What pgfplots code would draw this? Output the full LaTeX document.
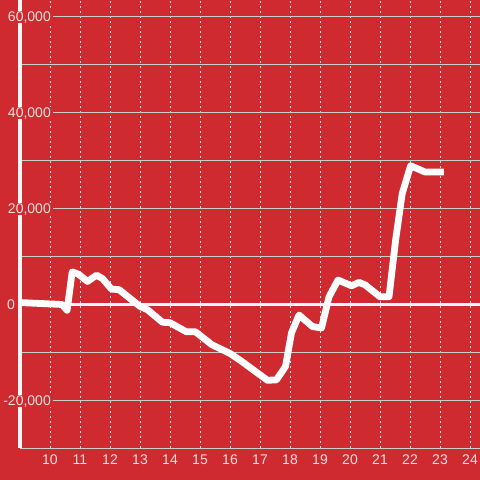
\documentclass[border=0pt]{standalone}
\usepackage{fontspec}
\setmainfont{Liberation Sans}
\usepackage{pgfplots}
\pgfplotsset{compat=1.18}
\definecolor{bg}{RGB}{206,42,47}
\definecolor{lbl}{RGB}{243,222,222}
\definecolor{gridc}{RGB}{205,205,205}
\begin{document}
\begin{tikzpicture}
\fill[bg] (0,0) rectangle (480pt,480pt);
\useasboundingbox (0,0) rectangle (480pt,480pt);
\begin{axis}[
  at={(20pt,32pt)}, anchor=south west,
  scale only axis, width=460pt, height=448pt,
  xmin=9, xmax=24.333, ymin=-30000, ymax=63333,
  axis x line=bottom, axis y line=left,
  x axis line style={gridc, line width=1pt, -},
  y axis line style={white!94!gray, line width=3.5pt, -},
  xtick={10,...,24},
  ytick={-20000,20000,40000,60000},
  yticklabels={-20{,}000,20{,}000,40{,}000,60{,}000},
  minor ytick={-10000,10000,30000,50000},
  extra y ticks={0}, extra y tick labels={0},
  extra y tick style={yticklabel style={xshift=-36pt}},
  major tick length=0pt, minor tick length=0pt,
  xmajorgrids, ymajorgrids, yminorgrids,
  x grid style={white!85!bg, line width=1pt, dash pattern=on 2pt off 3pt},
  y grid style={gridc, line width=1pt, solid},
  /pgf/number format/assume math mode=true,
  tick label style={text=lbl, font=\fontsize{14}{16}\selectfont},
  xticklabel style={anchor=center, yshift=-12pt},
  yticklabel style={anchor=base east, xshift=33pt, yshift=-5pt, fill=bg, inner xsep=2pt, inner ysep=0.5pt},
]
\addplot[white!94!gray, line width=3pt, no markers] coordinates {(9,0) (24.333,0)};
\addplot[white, line width=6.8pt, line join=round, no markers] coordinates {
  (9,300) (10.4,-100) (10.57,-1300) (10.74,6700) (10.95,6200) (11.25,4700)
  (11.55,6000) (11.75,5300) (12.05,3100) (12.3,3000) (13.0,-500) (13.25,-1200)
  (13.75,-3800) (14.0,-3900) (14.55,-5800) (14.85,-5800) (15.4,-8500)
  (16.0,-10300) (16.4,-12000) (17.25,-15900) (17.55,-15800) (17.85,-13000)
  (18.05,-6000) (18.3,-2300) (18.75,-4700) (19.05,-5000) (19.3,1500)
  (19.6,5000) (20.05,3800) (20.3,4500) (20.5,4000) (21.0,1500) (21.3,1500)
  (21.52,13300) (21.74,23000) (22.02,28800) (22.5,27500) (23.13,27500)
};
\end{axis}
\end{tikzpicture}
\end{document}
